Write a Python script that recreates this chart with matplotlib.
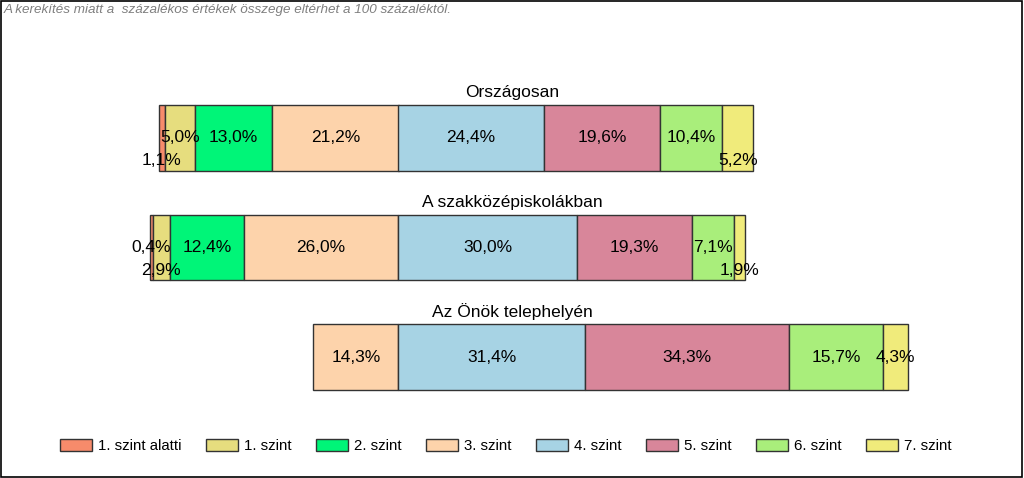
"""
Stacked horizontal bars of level shares, aligned at the 3./4. level boundary.
"""

import matplotlib
matplotlib.use("Agg")
import matplotlib.pyplot as plt
from matplotlib.patches import Patch, Rectangle

plt.rcParams["font.family"] = ["Liberation Sans", "DejaVu Sans"]

groups = ["Országosan", "A szakközépiskolákban", "Az Önök telephelyén"]
levels = ["1. szint alatti", "1. szint", "2. szint", "3. szint",
          "4. szint", "5. szint", "6. szint", "7. szint"]
orszagos = [1.1, 5.0, 13.0, 21.2, 24.4, 19.6, 10.4, 5.2]
szakkozep = [0.4, 2.9, 12.4, 26.0, 30.0, 19.3, 7.1, 1.9]
telephely = [0.0, 0.0, 0.0, 14.3, 31.4, 34.3, 15.7, 4.3]
values = [orszagos, szakkozep, telephely]

level_colors = ["#F78B6B", "#E6DD7E", "#00F578", "#FDD3AB",
                "#A7D3E4", "#D8869A", "#A9EE7B", "#F0EB7B"]
note = "A kerekítés miatt a  százalékos értékek összege eltérhet a 100 százaléktól."

# labels pushed down to the bottom of the bar so they don't collide
LOW_LABELS = {(0, 0), (0, 7), (1, 1), (1, 7)}
SPLIT = 4          # bars are aligned on the start of "4. szint"
BAR_H = 0.6
LABEL_FS = 12.5

W, H, DPI = 1024, 478, 100
PX_PER_PCT = 5.95
ANCHOR_PX = 398.5
ROW_PX = 109.5
FIRST_ROW_PX = 138

fig = plt.figure(figsize=(W / DPI, H / DPI), dpi=DPI)
ax = fig.add_axes([0, 0, 1, 1])
ax.set_xlim(-ANCHOR_PX / PX_PER_PCT, (W - ANCHOR_PX) / PX_PER_PCT)
ax.set_ylim((H - FIRST_ROW_PX) / ROW_PX, -FIRST_ROW_PX / ROW_PX)
ax.axis("off")

for i, (name, vals) in enumerate(zip(groups, values)):
    left = -sum(vals[:SPLIT])
    for j, v in enumerate(vals):
        if v > 0:
            ax.barh(i, v, left=left, height=BAR_H, color=level_colors[j],
                    edgecolor="#333333", linewidth=1.0)
            dy = 0.21 if (i, j) in LOW_LABELS else 0.0
            ax.text(left + v / 2, i + dy, f"{v:.1f}%".replace(".", ","),
                    ha="center", va="center", fontsize=LABEL_FS, color="black")
        left += v
    # group title, centred across the figure just above its bar
    ax.annotate(name, xy=(0.5, i - BAR_H / 2 - 0.115),
                xycoords=("figure fraction", "data"),
                ha="center", va="center", fontsize=LABEL_FS, color="black")

fig.text(4 / W, 1 - 10 / H, note, ha="left", va="center", fontsize=9.7,
         style="italic", color="#7F7F7F")

handles = [Patch(facecolor=c, edgecolor="#333333", linewidth=1.0)
           for c in level_colors]
fig.legend(handles, levels, loc="center", ncol=8, frameon=False,
           bbox_to_anchor=(505.7 / W, 1 - 446 / H), fontsize=10.8,
           handlelength=2.13, handleheight=0.93, handletextpad=0.4,
           columnspacing=1.63)

fig.add_artist(Rectangle((0.5 / W, 1.5 / H), (W - 2.5) / W, (H - 2.5) / H,
                         transform=fig.transFigure, fill=False,
                         edgecolor="black", linewidth=1.2))

fig.savefig("out.png", dpi=DPI)
plt.close(fig)
